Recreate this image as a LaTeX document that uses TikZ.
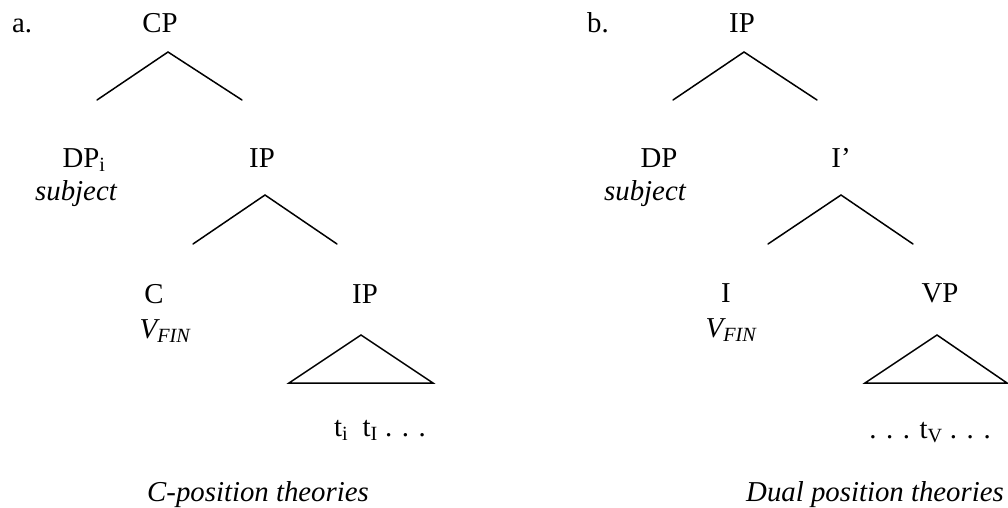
\documentclass[tikz,border=0pt]{standalone}
\usepackage{fontspec}
\setmainfont{Liberation Serif}
\begin{document}
\begin{tikzpicture}[x=1pt,y=-1pt,
    lbl/.style={anchor=base, inner sep=0pt, font=\fontsize{28.8}{34}\selectfont},
    branch/.style={black, line width=1.5pt, line cap=round, line join=miter}]
\useasboundingbox (0,0) rectangle (1008,508);
% tree a: C-position
\node[lbl] (marka) at (22,33) {a.};
\node[lbl] (cpa) at (160,33) {CP};
\node[lbl] (dpa) at (84,167) {DP\textsubscript{i}};
\node[lbl] (subja) at (76,200) {\itshape subject};
\node[lbl] (ipa) at (262,167) {IP};
\node[lbl] (ca) at (154,303) {C};
\node[lbl] (vfina) at (165,338) {\itshape V\textsubscript{FIN}};
\node[lbl] (ipb) at (365,303) {IP};
\node[lbl] (tracea) at (380,436) {t\textsubscript{i}\ \ t\textsubscript{I} . . .};
\node[lbl] (capa) at (258,501) {\itshape C-position theories};
\coordinate (cpTop) at (168,52);
\coordinate (cpLeft) at (97,100);
\coordinate (cpRight) at (242,100);
\coordinate (ipaTop) at (265,195);
\coordinate (ipaLeft) at (193,244);
\coordinate (ipaRight) at (337,244);
\coordinate (triaTop) at (361,335);
\coordinate (triaLeft) at (289,383);
\coordinate (triaRight) at (433,383);
\draw[branch] (cpLeft) -- (cpTop) -- (cpRight);
\draw[branch] (ipaLeft) -- (ipaTop) -- (ipaRight);
\draw[branch] (triaLeft) -- (triaTop) -- (triaRight) -- cycle;
% tree b: dual position
\node[lbl] (markb) at (598,33) {b.};
\node[lbl] (ipc) at (742,33) {IP};
\node[lbl] (dpb) at (659,167) {DP};
\node[lbl] (subjb) at (645,200) {\itshape subject};
\node[lbl] (ibar) at (841,167) {I’};
\node[lbl] (ib) at (726,302) {I};
\node[lbl] (vfinb) at (731,337) {\itshape V\textsubscript{FIN}};
\node[lbl] (vpb) at (940,302) {VP};
\node[lbl] (traceb) at (930,438) {. . . t\textsubscript{V} . . .};
\node[lbl] (capb) at (875,501) {\itshape Dual position theories};
\coordinate (ipcTop) at (744,52);
\coordinate (ipcLeft) at (673,100);
\coordinate (ipcRight) at (817,100);
\coordinate (ibarTop) at (841,195);
\coordinate (ibarLeft) at (768,244);
\coordinate (ibarRight) at (913,244);
\coordinate (tribTop) at (937,335);
\coordinate (tribLeft) at (865,383);
\coordinate (tribRight) at (1007,383);
\draw[branch] (ipcLeft) -- (ipcTop) -- (ipcRight);
\draw[branch] (ibarLeft) -- (ibarTop) -- (ibarRight);
\draw[branch] (tribLeft) -- (tribTop) -- (tribRight) -- cycle;
\end{tikzpicture}
\end{document}
